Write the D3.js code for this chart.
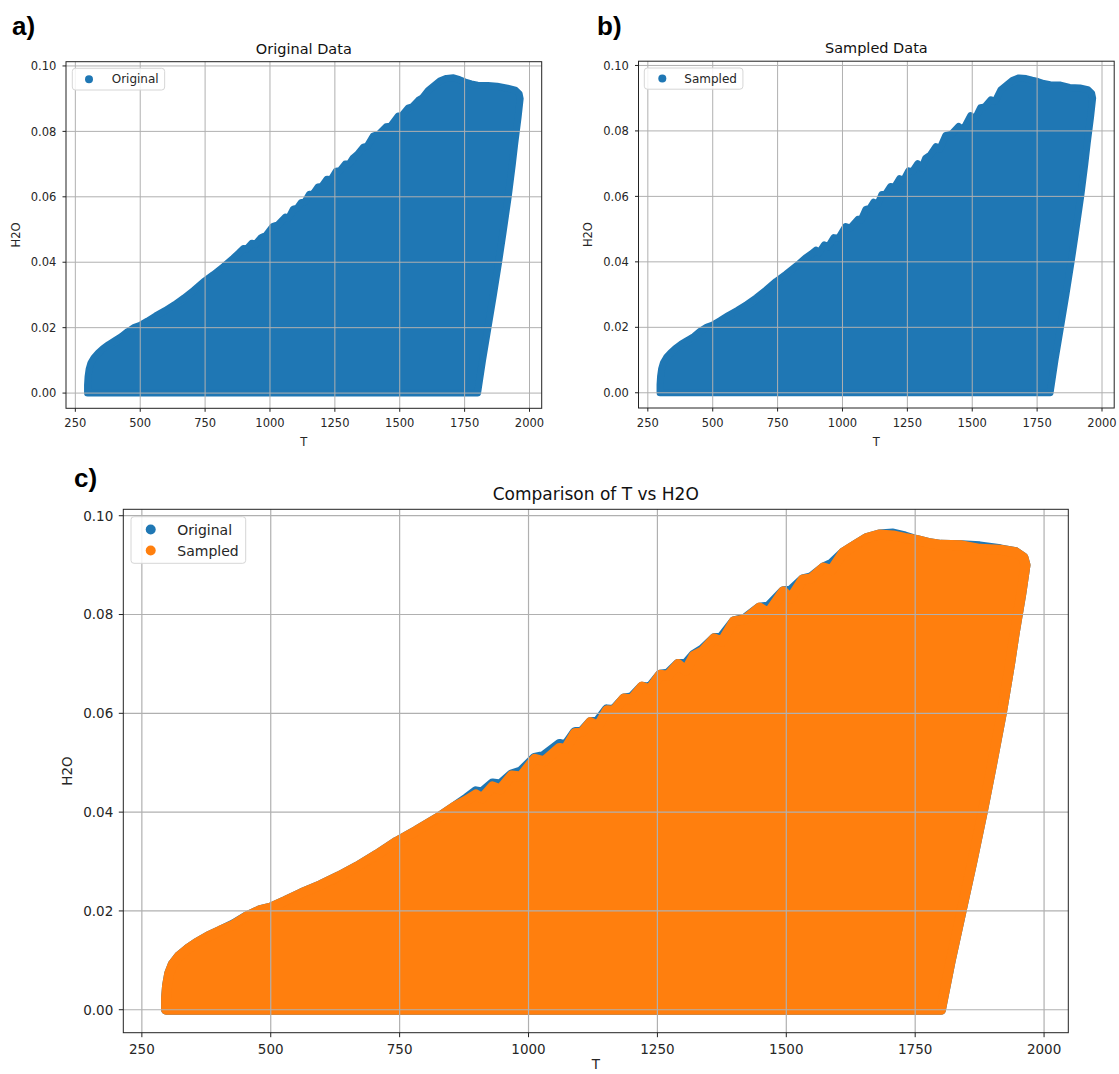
<!DOCTYPE html>
<html><head><meta charset="utf-8">
<script src="https://cdn.jsdelivr.net/npm/d3@7"></script>
<style>body{margin:0;background:#fff}svg{display:block}</style>
</head><body>
<svg id="chart" width="1119" height="1074"></svg>
<script>
// Outline of the scatter cloud (marker centres), walked clockwise
const outlineT = [297,297,299,303,310,322,338,356,378,402,428,452,478,500,528,560,596,632,668,706,744,782,822,858,880,898,910,930,945,967,985,1012,1030,1060,1072,1090,1105,1120,1135,1152,1165,1185,1200,1220,1235,1255,1270,1290,1305,1320,1338,1360,1375,1398,1420,1448,1465,1494,1508,1532,1548,1572,1588,1610,1630,1656,1680,1707,1730,1752,1775,1800,1840,1875,1915,1945,1960,1964,1956,1943,1934,1918,1897,1881,1861,1840,1819,1800];
const originalH = [0.0000,0.0025,0.0050,0.0073,0.0092,0.0108,0.0122,0.0135,0.0148,0.0160,0.0173,0.0188,0.0201,0.0207,0.0220,0.0236,0.0252,0.0270,0.0290,0.0314,0.0340,0.0362,0.0387,0.0412,0.0428,0.0442,0.0440,0.0458,0.0456,0.0476,0.0482,0.0510,0.0514,0.0538,0.0535,0.0562,0.0565,0.0582,0.0585,0.0608,0.0607,0.0630,0.0632,0.0654,0.0652,0.0678,0.0680,0.0700,0.0700,0.0718,0.0730,0.0752,0.0755,0.0786,0.0792,0.0814,0.0816,0.0847,0.0848,0.0871,0.0875,0.0895,0.0903,0.0925,0.0938,0.0955,0.0962,0.0964,0.0958,0.0951,0.0945,0.0941,0.0940,0.0938,0.0932,0.0926,0.0915,0.0900,0.0843,0.0762,0.0700,0.0600,0.0485,0.0400,0.0300,0.0200,0.0100,0.0000];
const sampledH = [0.0000,0.0025,0.0050,0.0073,0.0092,0.0108,0.0122,0.0135,0.0148,0.0160,0.0172,0.0188,0.0201,0.0207,0.0220,0.0236,0.0252,0.0270,0.0290,0.0314,0.0340,0.0362,0.0387,0.0412,0.0424,0.0436,0.0428,0.0452,0.0446,0.0474,0.0472,0.0508,0.0503,0.0530,0.0528,0.0560,0.0563,0.0582,0.0574,0.0606,0.0605,0.0630,0.0628,0.0654,0.0648,0.0678,0.0676,0.0700,0.0686,0.0716,0.0726,0.0752,0.0745,0.0786,0.0790,0.0814,0.0803,0.0847,0.0832,0.0871,0.0873,0.0895,0.0890,0.0925,0.0938,0.0955,0.0962,0.0960,0.0955,0.0951,0.0945,0.0941,0.0940,0.0933,0.0931,0.0926,0.0915,0.0900,0.0843,0.0762,0.0700,0.0600,0.0485,0.0400,0.0300,0.0200,0.0100,0.0000];

const xTicks = [250, 500, 750, 1000, 1250, 1500, 1750, 2000];
const yTicks = [0.00, 0.02, 0.04, 0.06, 0.08, 0.10];
const xDomain = [214, 2047];
const yDomain = [-0.00465, 0.1013];

const BLUE = '#1f77b4', ORANGE = '#ff7f0e';
const FONT = "'DejaVu Sans', sans-serif";
const svg = d3.select('#chart');

const panels = [
  { tag: 'a)', tagX: 12, tagY: 35, title: 'Original Data',
    f: {l: 66, r: 541.7, t: 61.7, b: 408.3},
    fs: {tick: 11.5, title: 14.5, leg: 12, lab: 11.5}, r: 3.5, tl: 3.5,
    titleDy: 8.2, xtDy: 18.7, xlDy: 37.7, ylX: 15.7, ytDx: 9.6,
    leg: {dx: 6.3, dy: 6.6, h: 21.7, mx: 16.7, tx: 39.4, row: 0, mr: 4, pad: 6},
    series: [{name: 'Original', h: originalH, color: BLUE}] },
  { tag: 'b)', tagX: 597, tagY: 35, title: 'Sampled Data',
    f: {l: 638.5, r: 1114.2, t: 61.2, b: 408.0},
    fs: {tick: 11.5, title: 14.5, leg: 12, lab: 11.5}, r: 3.5, tl: 3.5,
    titleDy: 8.2, xtDy: 18.7, xlDy: 37.7, ylX: 588, ytDx: 9.6,
    leg: {dx: 5.8, dy: 6.8, h: 21.2, mx: 18, tx: 40, row: 0, mr: 4, pad: 6},
    series: [{name: 'Sampled', h: sampledH, color: BLUE}] },
  { tag: 'c)', tagX: 74, tagY: 487, title: 'Comparison of T vs H2O',
    f: {l: 123.3, r: 1068.3, t: 509.3, b: 1032.7},
    fs: {tick: 13.5, title: 17, leg: 14, lab: 13.5}, r: 5, tl: 4.5,
    titleDy: 9.8, xtDy: 21.3, xlDy: 36.5, ylX: 67, ytDx: 10,
    leg: {dx: 7.7, dy: 7.4, h: 46.6, mx: 19.7, tx: 46.3, row: 21, mr: 5, pad: 7},
    series: [{name: 'Original', h: originalH, color: BLUE},
             {name: 'Sampled', h: sampledH, color: ORANGE}] }
];

panels.forEach(p => {
  const f = p.f;
  const x = d3.scaleLinear().domain(xDomain).range([f.l, f.r]);
  const y = d3.scaleLinear().domain(yDomain).range([f.b, f.t]);
  const g = svg.append('g');

  // panel tag
  g.append('text').attr('x', p.tagX).attr('y', p.tagY)
    .attr('font-family', "'Liberation Sans', Arial, sans-serif").attr('font-weight', 'bold')
    .attr('font-size', 26).attr('fill', '#000').text(p.tag);

  // clip
  const cid = 'clip' + p.tag[0];
  svg.append('clipPath').attr('id', cid).append('rect')
    .attr('x', f.l).attr('y', f.t).attr('width', f.r - f.l).attr('height', f.b - f.t);

  // scatter clouds (outline of markers)
  const line = d3.line().x((d, i) => x(outlineT[i])).y(d => y(d));
  const dataG = g.append('g').attr('clip-path', `url(#${cid})`);
  p.series.forEach(s => {
    dataG.append('path').attr('d', line(s.h) + 'Z')
      .attr('fill', s.color).attr('stroke', s.color)
      .attr('stroke-width', 2 * p.r).attr('stroke-linejoin', 'round');
  });

  // grid (drawn over the collection, as matplotlib does)
  const grid = g.append('g').attr('stroke', '#b0b0b0').attr('stroke-width', p.r > 4 ? 1.2 : 1);
  xTicks.forEach(t => grid.append('line').attr('x1', x(t)).attr('x2', x(t)).attr('y1', f.t).attr('y2', f.b));
  yTicks.forEach(t => grid.append('line').attr('x1', f.l).attr('x2', f.r).attr('y1', y(t)).attr('y2', y(t)));

  // frame
  g.append('rect').attr('x', f.l).attr('y', f.t).attr('width', f.r - f.l).attr('height', f.b - f.t)
    .attr('fill', 'none').attr('stroke', '#222').attr('stroke-width', 1);

  // ticks
  const tk = g.append('g').attr('stroke', '#222').attr('stroke-width', 1);
  xTicks.forEach(t => tk.append('line').attr('x1', x(t)).attr('x2', x(t)).attr('y1', f.b).attr('y2', f.b + p.tl));
  yTicks.forEach(t => tk.append('line').attr('x1', f.l - p.tl).attr('x2', f.l).attr('y1', y(t)).attr('y2', y(t)));

  const txt = g.append('g').attr('font-family', FONT).attr('fill', '#262626');
  xTicks.forEach(t => txt.append('text').attr('x', x(t)).attr('y', f.b + p.xtDy)
    .attr('text-anchor', 'middle').attr('font-size', p.fs.tick).text(d3.format('d')(t)));
  yTicks.forEach(t => txt.append('text').attr('x', f.l - p.ytDx).attr('y', y(t) + 0.36 * p.fs.tick)
    .attr('text-anchor', 'end').attr('font-size', p.fs.tick).text(d3.format('.2f')(t)));

  // axis labels
  txt.append('text').attr('x', (f.l + f.r) / 2).attr('y', f.b + p.xlDy).attr('text-anchor', 'middle')
    .attr('font-size', p.fs.lab).text('T');
  txt.append('text').attr('transform', `translate(${p.ylX + 0.36 * p.fs.lab},${(f.t + f.b) / 2}) rotate(-90)`)
    .attr('text-anchor', 'middle').attr('font-size', p.fs.lab).text('H2O');

  // title
  txt.append('text').attr('x', (f.l + f.r) / 2).attr('y', f.t - p.titleDy).attr('text-anchor', 'middle')
    .attr('font-size', p.fs.title).attr('fill', '#111').text(p.title);

  // legend
  const L = p.leg;
  const lg = g.append('g').attr('transform', `translate(${f.l + L.dx},${f.t + L.dy})`);
  const box = lg.append('rect').attr('rx', 3).attr('ry', 3)
    .attr('fill', 'rgba(255,255,255,0.85)').attr('stroke', '#d6d6d6').attr('stroke-width', 1);
  let maxW = 0;
  p.series.forEach((s, i) => {
    const cy = L.h / 2 - (p.series.length - 1) * L.row / 2 + i * L.row;
    lg.append('circle').attr('cx', L.mx).attr('cy', cy).attr('r', L.mr).attr('fill', s.color);
    const t = lg.append('text').attr('x', L.tx).attr('y', cy + 0.36 * p.fs.leg)
      .attr('font-family', FONT).attr('font-size', p.fs.leg).attr('fill', '#262626').text(s.name);
    maxW = Math.max(maxW, t.node().getComputedTextLength());
  });
  box.attr('width', L.tx + maxW + L.pad).attr('height', L.h);
});
</script>
</body></html>
